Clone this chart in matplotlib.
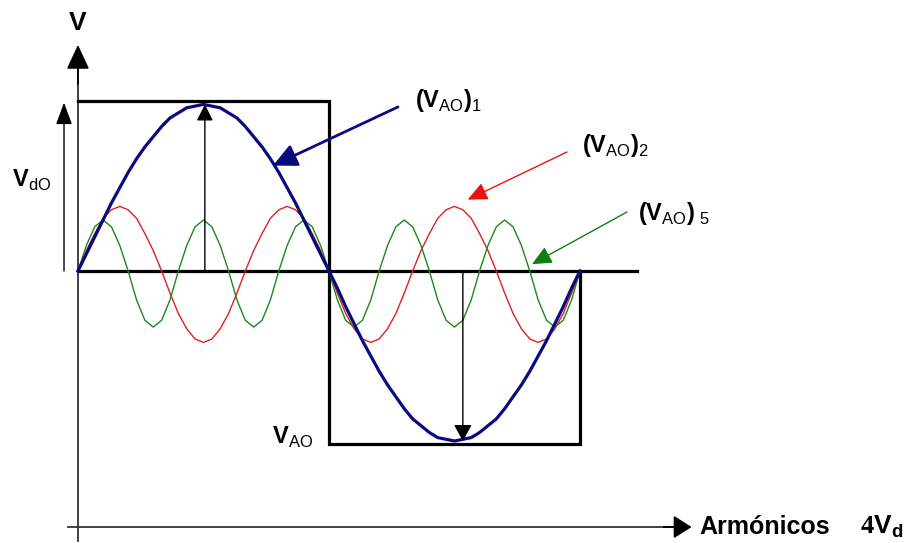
import numpy as np
import matplotlib
matplotlib.use('Agg')
import matplotlib.pyplot as plt

plt.rcParams['font.family'] = ['Liberation Sans', 'DejaVu Sans']
plt.rcParams['mathtext.fontset'] = 'custom'
plt.rcParams['mathtext.rm'] = 'Liberation Sans'
plt.rcParams['mathtext.bf'] = 'Liberation Sans:bold'

# angle in degrees, one sample every 6 degrees over a full period
angle = list(range(0, 361, 6))

# fundamental (V_AO)_1 (square wave height = 1)
v1 = [0, .10, .20, .30, .40, .49, .58, .66, .73, .79, .85, .90, .93, .96, .97, .98,
      .97, .96, .93, .90, .85, .79, .73, .66, .58, .49, .40, .30, .20, .10, 0,
      -.10, -.21, -.31, -.41, -.50, -.59, -.67, -.74, -.81, -.87, -.91, -.95, -.98, -.99, -1.0,
      -.99, -.98, -.95, -.91, -.87, -.81, -.74, -.67, -.59, -.50, -.41, -.31, -.21, -.10, 0]

# (V_AO)_2 (red)
v3 = [0, .12, .22, .31, .36, .38, .36, .31, .22, .12, 0,
      -.13, -.25, -.34, -.40, -.42, -.40, -.34, -.25, -.13,
      0, .12, .22, .31, .36, .38, .36, .31, .22, .12, 0,
      -.13, -.25, -.34, -.40, -.42, -.40, -.34, -.25, -.13,
      0, .12, .22, .31, .36, .38, .36, .31, .22, .12, 0,
      -.13, -.25, -.34, -.40, -.42, -.40, -.34, -.25, -.13, 0]

# (V_AO)_5 (green)
v5 = [0, .15, .26, .30, .26, .15, 0, -.17, -.29, -.33, -.29, -.17,
      0, .15, .26, .30, .26, .15, 0, -.17, -.29, -.33, -.29, -.17,
      0, .15, .26, .30, .26, .15, 0, -.17, -.29, -.33, -.29, -.17,
      0, .15, .26, .30, .26, .15, 0, -.17, -.29, -.33, -.29, -.17,
      0, .15, .26, .30, .26, .15, 0, -.17, -.29, -.33, -.29, -.17, 0]

# square wave V_AO
sq_x = [0, 180, 180, 360, 360]
sq_y = [1.0, 1.0, -1.02, -1.02, 0]

fig = plt.figure(figsize=(9.19, 5.43), dpi=100)
ax = fig.add_axes([0, 0, 1, 1])
ax.set_xlim(-55.9, 603.1)
ax.set_ylim(-1.6, 1.594)
ax.set_axis_off()


def arrow(tip, tail, color='black', lw=1.0, hl=1.0, hw=0.5):
    ax.annotate('', xy=tip, xytext=tail,
                arrowprops=dict(arrowstyle=f'-|>,head_length={hl},head_width={hw}',
                                color=color, lw=lw, shrinkA=0, shrinkB=0, mutation_scale=10))


# axes
ax.plot([0, 0], [-1.59, 1.25], color='#333333', lw=1.3)
ax.plot([-7, 430], [-1.506, -1.506], color='#333333', lw=1.3)
arrow((0, 1.33), (0, 1.1), lw=1.3, hl=1.5, hw=0.7)
arrow((440, -1.506), (420, -1.506), lw=1.3, hl=1.1, hw=0.7)

# zero line
ax.plot([0, 401], [0, 0], color='black', lw=2.3)

# square wave
ax.plot(sq_x, sq_y, color='black', lw=2.3, solid_joinstyle='miter')

# curves
ax.plot(angle, v3, color='#e02020', lw=1.0)
ax.plot(angle, v5, color='#1a8a1a', lw=1.0)
ax.plot(angle, v1, color='#0a0a80', lw=2.3)

# amplitude arrows
arrow((-10, 0.99), (-10, 0), hl=1.35, hw=0.5)
arrow((91, 0.98), (91, 0), hl=1.0, hw=0.5)
arrow((276, -1.0), (276, 0), hl=1.0, hw=0.55)

# pointer arrows to the labels
arrow((139.8, 0.62), (229.5, 0.965), color='#0a0a80', lw=2.0, hl=1.45, hw=0.7)
arrow((279.5, 0.42), (350.7, 0.70), color='#ee1010', lw=1.0, hl=1.2, hw=0.55)
arrow((325.6, 0.04), (393.7, 0.347), color='#108010', lw=1.0, hl=1.2, hw=0.55)

# labels
fs = 17
ax.text(0, 1.46, r'$\mathbf{V}$', ha='center', va='center', fontsize=19)
ax.text(-47.5, 0.53, r'$\mathbf{V}_{\mathrm{dO}}$', ha='left', va='center', fontsize=fs)
ax.text(139, -0.98, r'$\mathbf{V}_{\mathrm{AO}}$', ha='left', va='center', fontsize=fs)
ax.text(241.5, 1.0, r'$\mathbf{(V}_{\mathrm{AO}}\mathbf{)}_{1}$', ha='left', va='center', fontsize=fs)
ax.text(361.5, 0.74, r'$\mathbf{(V}_{\mathrm{AO}}\mathbf{)}_{2}$', ha='left', va='center', fontsize=fs)
ax.text(401.5, 0.34, r'$\mathbf{(V}_{\mathrm{AO}}\mathbf{)}_{\ 5}$', ha='left', va='center', fontsize=fs)
ax.text(445.5, -1.506, 'Armónicos', ha='left', va='center', fontsize=18, fontweight='bold')
ax.text(561, -1.506, r'4$\mathbf{V}_{\mathbf{d}}$', ha='left', va='center', fontsize=19,
        fontweight='bold', family='Liberation Serif')

plt.savefig('out.png', dpi=100)
